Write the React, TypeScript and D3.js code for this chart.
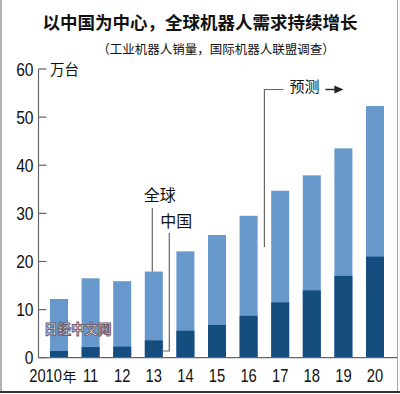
import React from "react";
import * as d3 from "d3";

// 万台
const years = ["2010", "11", "12", "13", "14", "15", "16", "17", "18", "19", "20"];
const globalSales = [12.2, 16.5, 15.9, 17.9, 22.1, 25.5, 29.5, 34.7, 37.9, 43.5, 52.3];
const chinaSales = [1.4, 2.2, 2.3, 3.6, 5.6, 6.8, 8.7, 11.5, 14.0, 17.0, 21.0];
const yTicks = [0, 10, 20, 30, 40, 50, 60];

const W = 400, H = 394;
const light = "#6799cd";
const dark = "#164d7f";
const lineGray = "#666";
const numFont = "'Liberation Sans', Arial, sans-serif";
const cjkFont = "'Noto Sans CJK SC', 'Noto Sans', sans-serif";
const narrow = 0.82;

export default function App() {
  const x = d3.scaleBand().domain(years).range([50, 384]).paddingInner(0.43).paddingOuter(0);
  const y = d3.scaleLinear().domain([0, 60]).range([357.7, 69]);
  const axisX = 38.5;

  const i13 = years.indexOf("13");
  const x13 = x("13")!;
  const gx = x13 + 7.5; // 全球 leader
  const cx = x13 + x.bandwidth() + 6.5; // 中国 leader
  const fx = (x("16")! + x.bandwidth() + x("17")!) / 2; // forecast bracket

  return (
    <svg width={W} height={H} style={{ position: "absolute", left: 0, top: 0, display: "block", background: "#fff" }}>
      {/* frame */}
      <line x1={1} y1={0} x2={1} y2={392} stroke="#999" strokeWidth={1.5} />
      <line x1={397.5} y1={0} x2={397.5} y2={392} stroke="#aaa" strokeWidth={1} />
      <line x1={0} y1={392} x2={400} y2={392} stroke="#333" strokeWidth={2} />

      <text x={200} y={29} textAnchor="middle" fontFamily={cjkFont} fontWeight="bold" fontSize={17.5} fill="#111">
        以中国为中心，全球机器人需求持续增长
      </text>
      <text x={216} y={54} textAnchor="middle" fontFamily={cjkFont} fontSize={12.5} fill="#111">
        （工业机器人销量，国际机器人联盟调查）
      </text>

      {/* y axis */}
      <line x1={axisX} y1={y(60)} x2={axisX} y2={y(0)} stroke={lineGray} strokeWidth={1.2} />
      {yTicks.map((t) => (
        <g key={t}>
          <line x1={axisX} x2={axisX + 8} y1={y(t)} y2={y(t)} stroke={lineGray} strokeWidth={1.2} />
          <text transform={`translate(33.5,${y(t) + 6.5}) scale(${narrow},1)`} textAnchor="end" fontFamily={numFont} fontSize={19} fill="#111">
            {t}
          </text>
        </g>
      ))}
      <text x={50} y={y(60) + 6} fontFamily={cjkFont} fontSize={14.5} fill="#111">万台</text>

      {/* bars */}
      {years.map((yr, i) => (
        <g key={yr}>
          <rect x={x(yr)} y={y(globalSales[i])} width={x.bandwidth()} height={y(0) - y(globalSales[i])} fill={light} />
          <rect x={x(yr)} y={y(chinaSales[i])} width={x.bandwidth()} height={y(0) - y(chinaSales[i])} fill={dark} />
        </g>
      ))}
      <line x1={axisX} x2={397} y1={y(0)} y2={y(0)} stroke={lineGray} strokeWidth={1.2} />

      {/* x labels */}
      {years.map((yr) =>
        yr === "2010" ? (
          <g key={yr}>
            <text transform={`translate(62,382) scale(${narrow},1)`} textAnchor="end" fontFamily={numFont} fontSize={18} fill="#111">2010</text>
            <text x={62.5} y={382} fontFamily={cjkFont} fontSize={14} fill="#111">年</text>
          </g>
        ) : (
          <text key={yr} transform={`translate(${x(yr)! + x.bandwidth() / 2},382) scale(${narrow},1)`} textAnchor="middle" fontFamily={numFont} fontSize={18} fill="#111">
            {yr}
          </text>
        )
      )}

      {/* 全球 / 中国 leaders */}
      <text x={gx - 8.5} y={201} fontFamily={cjkFont} fontSize={16} fill="#111">全球</text>
      <line x1={gx} x2={gx} y1={208} y2={y(globalSales[i13])} stroke={lineGray} strokeWidth={1.2} />
      <text x={cx - 9} y={227} fontFamily={cjkFont} fontSize={16} fill="#111">中国</text>
      <polyline
        points={`${cx},${233} ${cx},${351} ${x13 + x.bandwidth()},${351}`}
        fill="none" stroke={lineGray} strokeWidth={1.2}
      />

      {/* forecast marker */}
      <polyline points={`${fx},${247} ${fx},${89.5} ${fx + 19},${89.5}`} fill="none" stroke={lineGray} strokeWidth={1.2} />
      <text x={fx + 25} y={92} fontFamily={cjkFont} fontSize={15} fill="#111">预测</text>
      <line x1={fx + 61} x2={fx + 72} y1={89.5} y2={89.5} stroke="#222" strokeWidth={1.4} />
      <path d={`M${fx + 70},85.5 L${fx + 79},89.5 L${fx + 70},93.5 Z`} fill="#222" />

      {/* watermark */}
      <text x={44} y={334} fontFamily={cjkFont} fontWeight="bold" fontSize={13.5} fill="#f6f2f6" stroke="#6e5c6e" strokeWidth={1}>
        日经中文网
      </text>
    </svg>
  );
}
